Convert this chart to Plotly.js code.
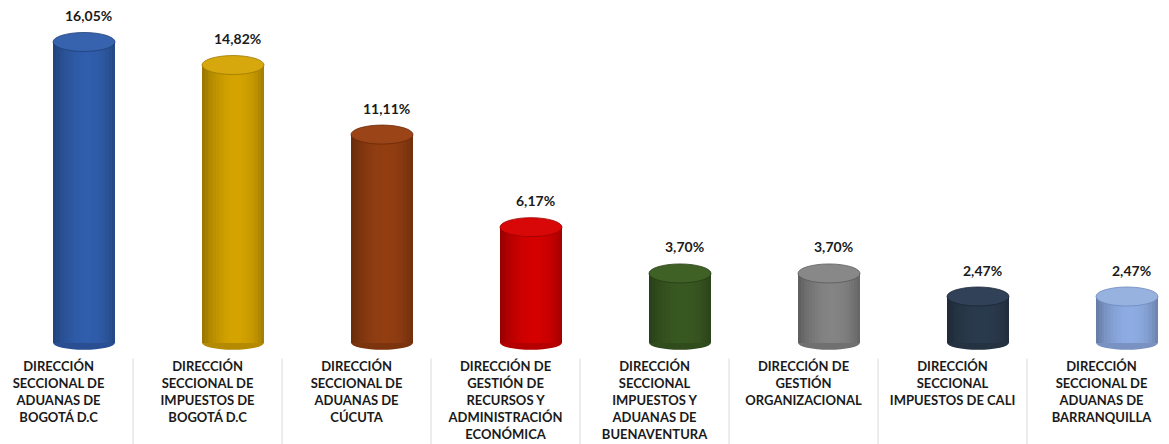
<!DOCTYPE html>
<html>
<head>
<meta charset="utf-8">
<script src="https://cdn.plot.ly/plotly-3.0.1.min.js"></script>
<style>html,body{margin:0;padding:0;background:#fff;}#chart{width:1169px;height:444px;}</style>
</head>
<body>
<div id="chart"></div>
<script>
const categories = [
  'DIRECCIÓN<br>SECCIONAL DE<br>ADUANAS DE<br>BOGOTÁ D.C',
  'DIRECCIÓN<br>SECCIONAL DE<br>IMPUESTOS DE<br>BOGOTÁ D.C',
  'DIRECCIÓN<br>SECCIONAL DE<br>ADUANAS DE<br>CÚCUTA',
  'DIRECCIÓN DE<br>GESTIÓN DE<br>RECURSOS Y<br>ADMINISTRACIÓN<br>ECONÓMICA',
  'DIRECCIÓN<br>SECCIONAL<br>IMPUESTOS Y<br>ADUANAS DE<br>BUENAVENTURA',
  'DIRECCIÓN DE<br>GESTIÓN<br>ORGANIZACIONAL',
  'DIRECCIÓN<br>SECCIONAL<br>IMPUESTOS DE CALI',
  'DIRECCIÓN<br>SECCIONAL DE<br>ADUANAS DE<br>BARRANQUILLA'
];
const values = [16.05, 14.82, 11.11, 6.17, 3.70, 3.70, 2.47, 2.47];
const valueLabels = ['16,05%', '14,82%', '11,11%', '6,17%', '3,70%', '3,70%', '2,47%', '2,47%'];
const sideColors = ['#2D58A2', '#C89A00', '#8A3A10', '#C80000', '#35531F', '#7C7C7C', '#283749', '#86A2D6'];
const topColors  = ['#3763AE', '#D6A80E', '#9A4418', '#D80808', '#3F6126', '#888888', '#314157', '#98B2E0'];
const edgeColors = ['#1F3F78', '#9C7800', '#6A2A08', '#9A0000', '#253B14', '#5A5A5A', '#1B2636', '#6C88BE'];

const idx = categories.map((c, i) => i);
const pxPerUnit = 18.74;
const barW = 0.416;
const barOff = 0.171;
const topHH = 9.5 / pxPerUnit;
const botHH = 7 / pxPerUnit;
const xs = idx.map(i => i + barOff);

function hexToRgb(h) { return [1, 3, 5].map(k => parseInt(h.substr(k, 2), 16)); }
function shade(h, f) {
  const c = hexToRgb(h).map(v => Math.max(0, Math.min(255, Math.round(v * f))));
  return 'rgb(' + c.join(',') + ')';
}

const traces = [];
const N = 22;
for (let j = 0; j < N; j++) {
  const t = (j + 0.5) / N;
  const f = 0.74 + 0.30 * Math.pow(Math.sin(Math.PI * Math.pow(t, 1.1)), 0.7) + 0.04 * t;
  traces.push({type: 'bar', x: xs.map(x => x - barW / 2 + (j + 0.5) * barW / N), y: values,
    width: idx.map(() => barW / N * 1.08),
    marker: {color: sideColors.map(c => shade(c, f)), line: {width: 0}},
    hoverinfo: 'skip', showlegend: false});
}

const shapes = [];
idx.forEach(i => {
  shapes.push({type: 'circle', xref: 'x', yref: 'y', layer: 'below',
    x0: xs[i] - barW / 2, x1: xs[i] + barW / 2, y0: -botHH, y1: botHH,
    fillcolor: shade(sideColors[i], 0.9), line: {width: 0}});
  shapes.push({type: 'circle', xref: 'x', yref: 'y', layer: 'above',
    x0: xs[i] - barW / 2, x1: xs[i] + barW / 2, y0: values[i] - topHH, y1: values[i] + topHH,
    fillcolor: topColors[i], line: {width: 0.8, color: edgeColors[i]}});
  if (i < idx.length - 1) {
    shapes.push({type: 'line', xref: 'x', yref: 'paper', x0: i + 0.5, x1: i + 0.5, y0: -0.01, y1: -0.26,
      line: {color: '#D9D9D9', width: 1}});
  }
});

const annotations = idx.map(i => ({
  x: xs[i] + 0.03, y: values[i], xref: 'x', yref: 'y', text: valueLabels[i],
  showarrow: false, yanchor: 'middle', xanchor: 'center', yshift: 26.5,
  font: {family: 'Lato, sans-serif', size: 14, color: '#1A1A1A', weight: 'bold'}
}));

const layout = {
  width: 1169, height: 444,
  margin: {l: 0, r: 0, t: 0, b: 89, pad: 0},
  paper_bgcolor: '#FFFFFF', plot_bgcolor: '#FFFFFF',
  barmode: 'overlay', bargap: 0,
  showlegend: false,
  xaxis: {range: [-0.393, 7.453], tickvals: idx, ticktext: categories, showgrid: false, zeroline: false,
    showline: false, ticks: '', automargin: false, tickangle: 0, ticklabelstandoff: 2,
    tickfont: {family: 'Lato, sans-serif', size: 13, color: '#1A1A1A', weight: 'bold'}},
  yaxis: {range: [-0.651, 18.29], showgrid: false, zeroline: false, showline: false, showticklabels: false,
    ticks: '', automargin: false},
  shapes: shapes, annotations: annotations
};

Plotly.newPlot('chart', traces, layout, {displayModeBar: false, staticPlot: true});
</script>
</body>
</html>
